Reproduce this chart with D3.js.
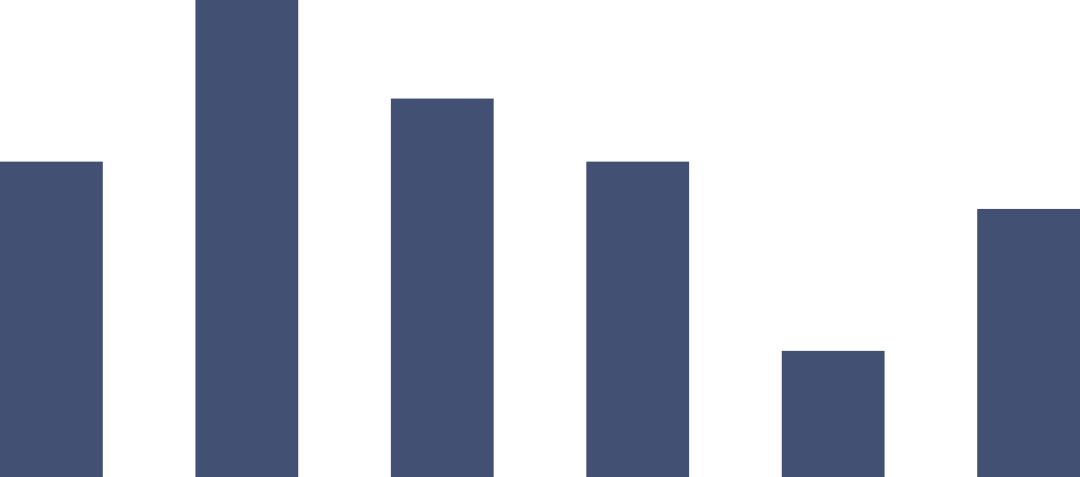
<!DOCTYPE html>
<html>
<head>
<meta charset="utf-8">
<script src="https://cdn.jsdelivr.net/npm/d3@7"></script>
<style>
html,body{margin:0;padding:0;background:#fff;overflow:hidden;}
svg{display:block;}
</style>
</head>
<body>
<svg id="chart" width="1080" height="477"></svg>
<script>
const categories = ["A", "B", "C", "D", "E", "F"];
const values = [20, 31, 24, 20, 8, 17];
const yMax = 30.25;

const width = 1080, height = 477;
const svg = d3.select("#chart");

const x = d3.scaleBand()
  .domain(categories)
  .range([0, width])
  .paddingInner(0.474)
  .paddingOuter(0);

const y = d3.scaleLinear()
  .domain([0, yMax])
  .range([height, 0]);

svg.append("g")
  .selectAll("rect")
  .data(categories.map((c, i) => ({ c, v: values[i] })))
  .join("rect")
  .attr("x", d => x(d.c))
  .attr("width", x.bandwidth())
  .attr("y", d => Math.max(0, y(d.v)))
  .attr("height", d => height - Math.max(0, y(d.v)))
  .attr("fill", "#425173");
</script>
</body>
</html>
